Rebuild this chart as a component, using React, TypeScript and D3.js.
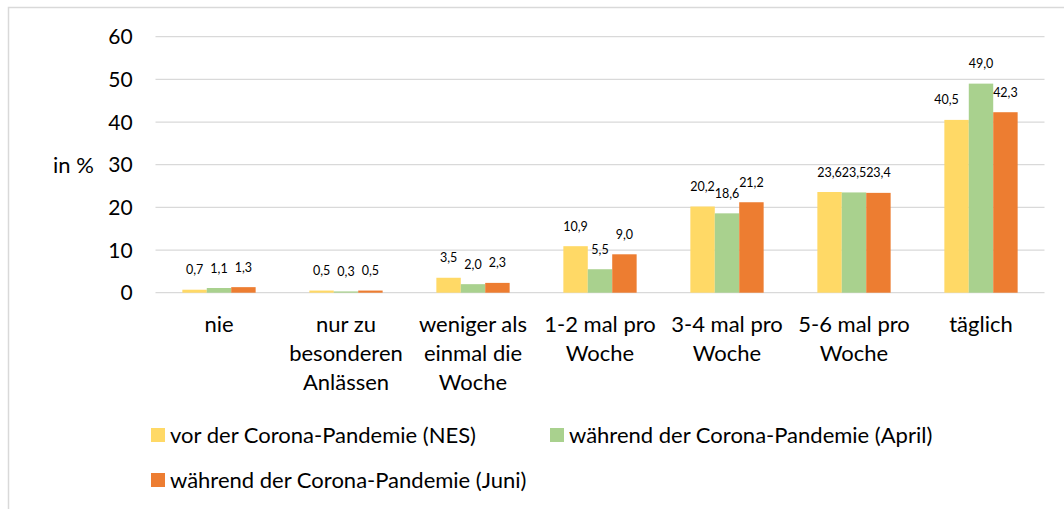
import { useEffect, useRef } from 'react';
import * as d3 from 'd3';

const categories = [
  ['nie'],
  ['nur zu', 'besonderen', 'Anlässen'],
  ['weniger als', 'einmal die', 'Woche'],
  ['1-2 mal pro', 'Woche'],
  ['3-4 mal pro', 'Woche'],
  ['5-6 mal pro', 'Woche'],
  ['täglich'],
];
const seriesNames = [
  'vor der Corona-Pandemie (NES)',
  'während der Corona-Pandemie (April)',
  'während der Corona-Pandemie (Juni)',
];
const colors = ['#FFD966', '#A9D18E', '#ED7D31'];
const nes = [0.7, 0.5, 3.5, 10.9, 20.2, 23.6, 40.5];
const april = [1.1, 0.3, 2.0, 5.5, 18.6, 23.5, 49.0];
const juni = [1.3, 0.5, 2.3, 9.0, 21.2, 23.4, 42.3];
const yTicks = [0, 10, 20, 30, 40, 50, 60];

const font = 'Lato, "Open Sans", sans-serif';

const App = () => {
  const svgRef = useRef<SVGSVGElement>(null);

  useEffect(() => {
    const svg = d3.select(svgRef.current);
    svg.selectAll('*').remove();

    const width = 1064;
    const height = 509;
    const left = 155.5;
    const right = 1044.5;
    const top = 36.7;
    const bottom = 292.7;
    const series = [nes, april, juni];
    const keys = categories.map(c => c.join(' '));

    // chart frame (runs off the page on the right and bottom)
    svg.append('rect')
      .attr('x', 8.5).attr('y', 7.5)
      .attr('width', 1200).attr('height', 700)
      .attr('fill', '#fff')
      .attr('stroke', '#d9d9d9')
      .attr('stroke-width', 1.5);

    const x0 = d3.scaleBand<string>()
      .domain(keys)
      .range([left, right])
      .paddingInner(0.423)
      .paddingOuter(0.2115);

    const x1 = d3.scaleBand<number>()
      .domain([0, 1, 2])
      .range([0, x0.bandwidth()]);

    const y = d3.scaleLinear().domain([0, 60]).range([bottom, top]);

    // gridlines
    svg.append('g')
      .selectAll('line')
      .data(yTicks)
      .join('line')
      .attr('x1', left).attr('x2', right)
      .attr('y1', d => y(d)).attr('y2', d => y(d))
      .attr('stroke', '#d9d9d9')
      .attr('stroke-width', 1.3);

    // y tick labels
    svg.append('g')
      .selectAll('text')
      .data(yTicks)
      .join('text')
      .attr('x', 132.7)
      .attr('y', d => y(d))
      .attr('dy', '0.36em')
      .attr('text-anchor', 'end')
      .style('font-family', font)
      .style('font-size', '21px')
      .style('fill', '#000')
      .text(d => d);

    svg.append('text')
      .attr('x', 53)
      .attr('y', y(30))
      .attr('dy', '0.36em')
      .style('font-family', font)
      .style('font-size', '22px')
      .text('in %');

    // bars
    series.forEach((vals, s) => {
      svg.append('g')
        .selectAll('rect')
        .data(vals)
        .join('rect')
        .attr('x', (d, i) => x0(keys[i])! + x1(s)!)
        .attr('y', d => y(d))
        .attr('width', x1.bandwidth())
        .attr('height', d => y(0) - y(d))
        .attr('fill', colors[s]);
    });

    // data labels
    series.forEach((vals, s) => {
      svg.append('g')
        .selectAll('text')
        .data(vals)
        .join('text')
        .attr('x', (d, i) => {
          const cx = x0(keys[i])! + x1(s)! + x1.bandwidth() / 2;
          // nudge left when the next bar is much taller and would hide the label
          const next = series[s + 1];
          if (next && next[i] - d > 5) return cx - 10;
          return cx;
        })
        .attr('y', d => y(d) - 15.5)
        .attr('text-anchor', 'middle')
        .style('font-family', font)
        .style('font-size', '12.5px')
        .style('fill', '#000')
        .text(d => d.toFixed(1).replace('.', ','));
    });

    // category labels
    const cat = svg.append('g');
    categories.forEach((lines, i) => {
      const t = cat.append('text')
        .attr('text-anchor', 'middle')
        .style('font-family', font)
        .style('font-size', '22px')
        .style('fill', '#000');
      lines.forEach((ln, j) => {
        t.append('tspan')
          .attr('x', x0(keys[i])! + x0.bandwidth() / 2)
          .attr('y', 331.5 + j * 29.2)
          .text(ln);
      });
    });

    // legend
    const legendPos = [
      { x: 151, y: 428 },
      { x: 550, y: 428 },
      { x: 151, y: 473 },
    ];
    seriesNames.forEach((name, s) => {
      const g = svg.append('g')
        .attr('transform', `translate(${legendPos[s].x},${legendPos[s].y})`);
      g.append('rect')
        .attr('width', 14).attr('height', 14)
        .attr('fill', colors[s]);
      g.append('text')
        .attr('x', 19)
        .attr('y', 15)
        .style('font-family', font)
        .style('font-size', '22px')
        .style('fill', '#000')
        .text(name);
    });

    svg.attr('width', width).attr('height', height);
  }, []);

  return (
    <svg
      ref={svgRef}
      width={1064}
      height={509}
      style={{ position: 'absolute', left: 0, top: 0, display: 'block' }}
    />
  );
};

export default App;
